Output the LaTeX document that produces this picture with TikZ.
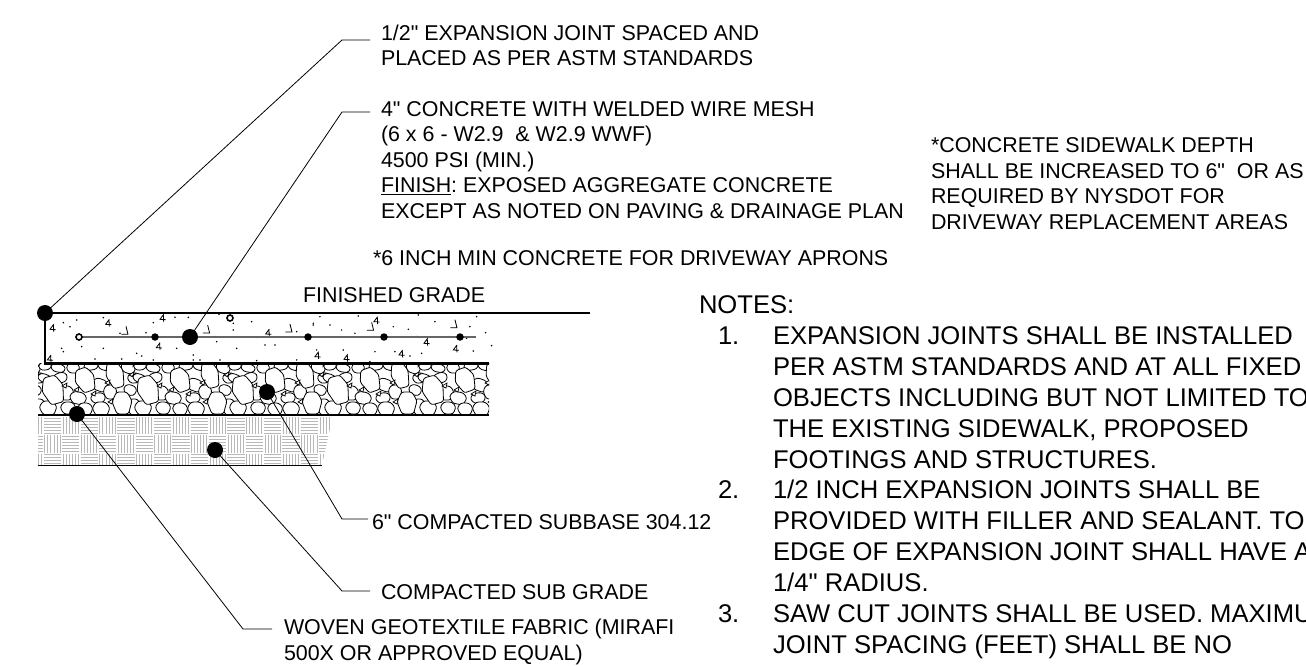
\documentclass[tikz,border=0pt]{standalone}
\usepackage{fontspec}
\setmainfont[Ligatures=TeXOff]{Liberation Sans}
\usepackage{tikz}
\usetikzlibrary{shapes}
\newcommand{\tlab}{\fontsize{21.5}{25.5}\selectfont\frenchspacing}
\newcommand{\tnote}{\fontsize{25.7}{31}\selectfont\frenchspacing}
\definecolor{weave}{gray}{.72}
\definecolor{meshgray}{gray}{.4}
\begin{document}
\begin{tikzpicture}[x=1bp,y=-1bp]
      \tikzstyle{every node}=[inner sep=0pt,outer sep=0pt]
      \tikzstyle{lab}=[anchor=base west,align=left,font=\tlab]
      \tikzstyle{note}=[anchor=base west,align=left,font=\tnote]
      \tikzstyle{bigdot}=[circle,fill=black,minimum size=16bp]
      \tikzstyle{meshdot}=[circle,fill=black,minimum size=7.5bp]
      \tikzstyle{ringdot}=[circle,draw=black,fill=white,line width=1.6bp,minimum size=6bp]
      \tikzstyle{leader}=[line width=.8bp]
      \tikzstyle{pebble}=[draw=black,fill=white,line width=.8bp,rounded corners=2.5bp]
      \useasboundingbox (0,0) rectangle (1306,665);
      \clip (0,0) rectangle (1306,665);
      %% sub grade
\begin{scope}
  \clip (38,415) -- (333,415) -- (322,465) -- (38,465) -- cycle;
  \foreach \i in {-1,...,16} {
    \foreach \j in {0,1,2} {
      \pgfmathsetmacro{\cx}{43.3+18.35*\i}
      \pgfmathsetmacro{\cy}{416.5+18.35*\j}
      \pgfmathtruncatemacro{\odd}{mod(\i+\j+2,2)}
      \foreach \k in {1,...,6} {
        \ifnum\odd=0
          \draw [weave,line width=.75bp] (\cx+.5,\cy+3.05*\k-1.6) -- (\cx+17.8,\cy+3.05*\k-1.6);
        \else
          \draw [weave,line width=.75bp] (\cx+3.05*\k-1.6,\cy+.5) -- (\cx+3.05*\k-1.6,\cy+17.8);
        \fi
      }
    }
  }
\end{scope}
      %% subbase
\begin{scope}
  \clip (38,363) rectangle (489,415);
  \foreach \t in {-1,...,4} {
    \begin{scope}[shift={(38+95*\t,363)}]
      \foreach \px/\py/\rx/\ry/\rr in {
        7/3/7/4/10, 20/5/8/4/-10, 35/5/7/5/0, 53/3/8/4/10, 66/3/7/4/-15, 90/5/8/5/-20,
        6/15/7/4/-15, 22/15/8/5/20, 62/22/9/6/-20, 92/27/7/5/-15, 60/35/8/5/10,
        28/30/8/7/0, 72/29/7/7/0, 40/35/9/6/-10, 96/15/7/5/10,
        10/45/9/7/0, 30/45/8/6/0, 47/46/8/6/0, 63/46/9/7/0, 96/44/7/8/0,
        84/40/10/11/0, 15/27/11/14/15, 47/17/10/12/20, 77/12/9/13/15} {
        \draw [pebble,rotate around={\rr:(\px,\py)}] (\px-\rx,\py-.1*\ry) -- (\px-.55*\rx,\py-\ry) -- (\px+.5*\rx,\py-\ry) -- (\px+\rx,\py-.2*\ry) -- (\px+.65*\rx,\py+\ry) -- (\px-.5*\rx,\py+\ry) -- cycle;
      }
      \foreach \px/\py in {24/23, 53/31, 67/20, 36/27, 70/39, 91/12} {
        \draw [draw=black,fill=white,line width=.7bp] (\px,\py) -- (\px+5,\py-3) -- (\px+4,\py+2) -- cycle;
      }
    \end{scope}
  }
\end{scope}
      %% concrete aggregate
\begin{scope}[shift={(20,280)},x=.3333bp,y=-.3333bp]
  \foreach \px/\py in {130/128,170/120,150/140,250/113,125/205,130/215,185/200,250/205,225/237,270/172,300/160,378/158,400/128,465/112,505/112,597/103,640/130,695/125,640/150,590/185,470/205,520/225,350/220,365/228,305/237,400/240,520/240,540/240,600/240,710/242,650/205,735/195,765/195,710/172,765/170,830/155,880/135,830/240,900/110,930/135,965/150,1005/160,880/130,1015/108,1065/215,1125/215,1170/228,1205/220,1120/140,1165/148,1195/105,1245/125,1350/140,1370/110,1397/158,1415/197,1360/213,1190/170,1050/245,970/210,890/210,1340/175} {
    \fill (\px,\py) circle [radius=2.6];
  }
  \foreach \px/\py in {98/143,265/128,428/113,417/198,90/235,745/157,893/225,1070/120,1220/185,1308/205,1145/220,980/233} {
    \draw [line width=.8bp] (\px+3,\py-10) -- (\px-8,\py+5) -- (\px+9,\py+6) (\px+2,\py-9) -- (\px+3,\py+12);
  }
  \foreach \px/\py in {318/152,563/148,810/145,1055/140,1305/132} {
    \draw [line width=.8bp] (\px-14,\py+11) -- (\px+6,\py+11) -- (\px,\py-13);
  }
\end{scope}
      %% slab and ground lines
  \draw [meshgray,line width=1.7bp] (79,337) -- (476,337);
  \draw [line width=2.3bp] (590,313) -- (45,313) -- (45,363.5) -- (489,363.5);
  \draw [line width=1.1bp] (38,415) -- (489,415);
  \draw [line width=1bp] (38,465) -- (322,465);
      %% callout dots
  \node (d_joint) at (45,313) [bigdot] {};
  \node (d_slab) at (190,337) [bigdot] {};
  \node (d_subbase) at (267,392) [bigdot] {};
  \node (d_grade) at (215,450) [bigdot] {};
  \node (d_fabric) at (77,414) [bigdot] {};
  \node (r_1) at (79,337) [ringdot] {};
  \node (r_2) at (230,318) [ringdot] {};
  \node (m_1) at (155,337) [meshdot] {};
  \node (m_2) at (308,337) [meshdot] {};
  \node (m_3) at (384,337) [meshdot] {};
  \node (m_4) at (460,337) [meshdot] {};
      %% labels
  \node (t_joint) at (381,65.5) [lab] {1/2" EXPANSION JOINT SPACED AND\\PLACED AS PER ASTM STANDARDS};
  \node (t_slab) at (381,218) [lab] {4" CONCRETE WITH WELDED WIRE MESH\\(6 x 6 - W2.9 \ \& W2.9 WWF)\\4500 PSI (MIN.)\\\underline{FINISH}: EXPOSED AGGREGATE CONCRETE\\EXCEPT AS NOTED ON PAVING \& DRAINAGE PLAN};
  \node (t_apron) at (373,265) [lab] {*6 INCH MIN CONCRETE FOR DRIVEWAY APRONS};
  \node (t_depth) at (931,229) [lab] {*CONCRETE SIDEWALK DEPTH\\SHALL BE INCREASED TO 6" \ OR AS\\REQUIRED BY NYSDOT FOR\\DRIVEWAY REPLACEMENT AREAS};
  \node (t_grade) at (303,302.5) [lab] {FINISHED GRADE};
  \node (t_subbase) at (372,529) [lab] {6" COMPACTED SUBBASE 304.12};
  \node (t_sub) at (381,599) [lab] {COMPACTED SUB GRADE};
  \node (t_fabric) at (284,660) [lab] {WOVEN GEOTEXTILE FABRIC (MIRAFI\\500X OR APPROVED EQUAL)};
      %% notes
  \node (n_head) at (699,313) [note] {NOTES:};
  \node (n_1) at (718,344) [note] {1.};
  \node (n_1t) at (773,468) [note] {EXPANSION JOINTS SHALL BE INSTALLED\\PER ASTM STANDARDS AND AT ALL FIXED\\OBJECTS INCLUDING BUT NOT LIMITED TO\\THE EXISTING SIDEWALK, PROPOSED\\FOOTINGS AND STRUCTURES.};
  \node (n_2) at (718,498) [note] {2.};
  \node (n_2t) at (773,591) [note] {1/2 INCH EXPANSION JOINTS SHALL BE\\PROVIDED WITH FILLER AND SEALANT. TO\\EDGE OF EXPANSION JOINT SHALL HAVE A\\1/4" RADIUS.};
  \node (n_3) at (718,622) [note] {3.};
  \node (n_3t) at (773,653) [note] {SAW CUT JOINTS SHALL BE USED. MAXIMU\\JOINT SPACING (FEET) SHALL BE NO};
      %% leaders
  \coordinate (k_joint) at (342,40);
  \coordinate (e_joint) at (370,40);
  \coordinate (k_slab) at (342,112);
  \coordinate (e_slab) at (370,112);
  \coordinate (k_subbase) at (342,519);
  \coordinate (e_subbase) at (368,519);
  \coordinate (k_grade) at (342,591);
  \coordinate (e_grade) at (370,591);
  \coordinate (k_fabric) at (243,629);
  \coordinate (e_fabric) at (272,629);
  \draw [leader] (d_joint.center) -- (k_joint) -- (e_joint);
  \draw [leader] (d_slab.center) -- (k_slab) -- (e_slab);
  \draw [leader] (d_subbase.center) -- (k_subbase) -- (e_subbase);
  \draw [leader] (d_grade.center) -- (k_grade) -- (e_grade);
  \draw [leader] (d_fabric.center) -- (k_fabric) -- (e_fabric);
%
\end{tikzpicture}
\end{document}
